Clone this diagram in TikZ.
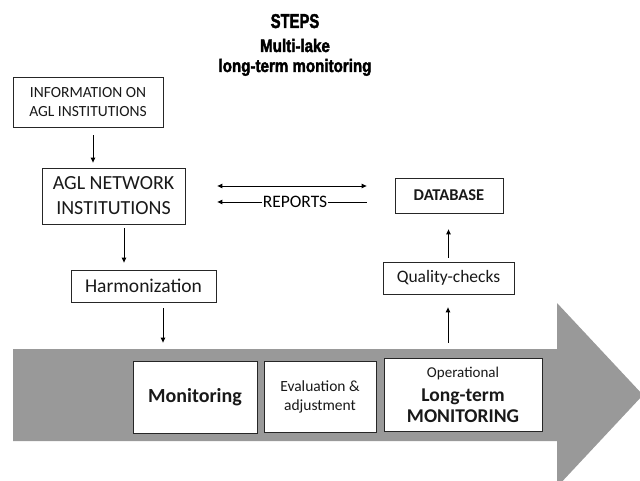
\documentclass[tikz,border=0pt]{standalone}
\usepackage{fontspec}
\usepackage{graphicx}
\setmainfont{Carlito}
\newfontfamily\titlefont{Liberation Sans}[BoldFeatures={FakeBold=2.5}]
\usetikzlibrary{arrows.meta,calc}
\definecolor{bandgray}{RGB}{153,153,153}
\begin{document}
\begin{tikzpicture}[x=1pt,y=-1pt,
  box/.style={draw=black!85,line width=0.8pt,fill=white,inner sep=0pt,align=center,text=black!90},
  arr/.style={-{Triangle[length=5pt,width=4.5pt]},line width=0.9pt},
  darr/.style={{Triangle[length=5pt,width=4.5pt]}-{Triangle[length=5pt,width=4.5pt]},line width=0.9pt},
  ttl/.style={anchor=base,inner sep=0pt,font=\titlefont\bfseries}]
\useasboundingbox (0,0) rectangle (640,481);
\begin{scope}
  \clip (0,0) rectangle (640,481);
  \fill[bandgray] (13,349) -- (557,349) -- (557,303) -- (643,395) -- (557,487) -- (557,441) -- (13,441) -- cycle;
\end{scope}
% titles
\node[ttl] (t1) at (295,28) {\fontsize{20}{20}\selectfont\scalebox{0.74}[1]{STEPS}};
\node[ttl] (t2) at (295,52) {\fontsize{18}{18}\selectfont\scalebox{0.84}[1]{Multi-lake}};
\node[ttl] (t3) at (295,72) {\fontsize{18}{18}\selectfont\scalebox{0.84}[1]{long-term monitoring}};
% boxes
\node[box,minimum width=150pt,minimum height=50pt,font={\fontsize{15.5}{19}\selectfont}] (info) at (88,102) {INFORMATION ON\\AGL INSTITUTIONS};
\node[box,minimum width=143pt,minimum height=56pt,font={\fontsize{20}{25}\selectfont}] (agl) at (113.5,196) {AGL NETWORK\\INSTITUTIONS};
\node[box,minimum width=145pt,minimum height=32pt,font={\fontsize{19.5}{22}\selectfont}] (harm) at (143.5,286) {Harmonization};
\node[box,minimum width=108pt,minimum height=35pt,font={\fontsize{16.5}{19}\selectfont\bfseries}] (db) at (449,195.5) {DATABASE};
\node[box,minimum width=131pt,minimum height=32pt,font={\fontsize{17.5}{20}\selectfont}] (qc) at (448.5,278) {Quality-checks};
\node[box,minimum width=124pt,minimum height=72pt,font={\fontsize{20}{22}\selectfont\bfseries}] (mon) at (195,397) {Monitoring};
\node[box,minimum width=112pt,minimum height=71pt,font={\fontsize{15.5}{19}\selectfont}] (eval) at (320,396.5) {Evaluation \&\\adjustment};
\node[box,minimum width=158pt,minimum height=73pt,font={\fontsize{19.5}{21}\selectfont\bfseries}] (op) at (463,394.5) {{\fontsize{15}{18}\selectfont\mdseries Operational}\\[3pt]Long-term\\MONITORING};
% connectors
\draw[arr,shorten <=8pt,shorten >=5pt] ([xshift=5pt]info.south) -- ([xshift=5pt]info.south |- agl.north);
\draw[arr,shorten <=4pt,shorten >=7pt] ([xshift=10.5pt]agl.south) -- ([xshift=10.5pt]agl.south |- harm.north);
\draw[arr,shorten <=6pt,shorten >=18pt] ([xshift=19.5pt]harm.south) -- ([xshift=19.5pt]harm.south |- mon.north);
\draw[arr,shorten <=15pt,shorten >=13pt] ([xshift=-15pt]op.north) -- ([xshift=-15pt]op.north |- qc.south);
\draw[arr,shorten <=4pt,shorten >=16pt] (qc.north) -- (qc.north |- db.south);
\draw[darr,shorten <=32pt,shorten >=28pt] ([yshift=10pt]agl.east) -- ([yshift=10pt]agl.east -| db.west);
\draw[arr,shorten <=28pt,shorten >=32pt] ([yshift=-6pt]agl.east -| db.west) -- node[pos=0.476,fill=white,inner sep=1.2pt,font={\fontsize{17.5}{19}\selectfont}] (rep) {REPORTS} ([yshift=-6pt]agl.east);
\end{tikzpicture}
\end{document}
